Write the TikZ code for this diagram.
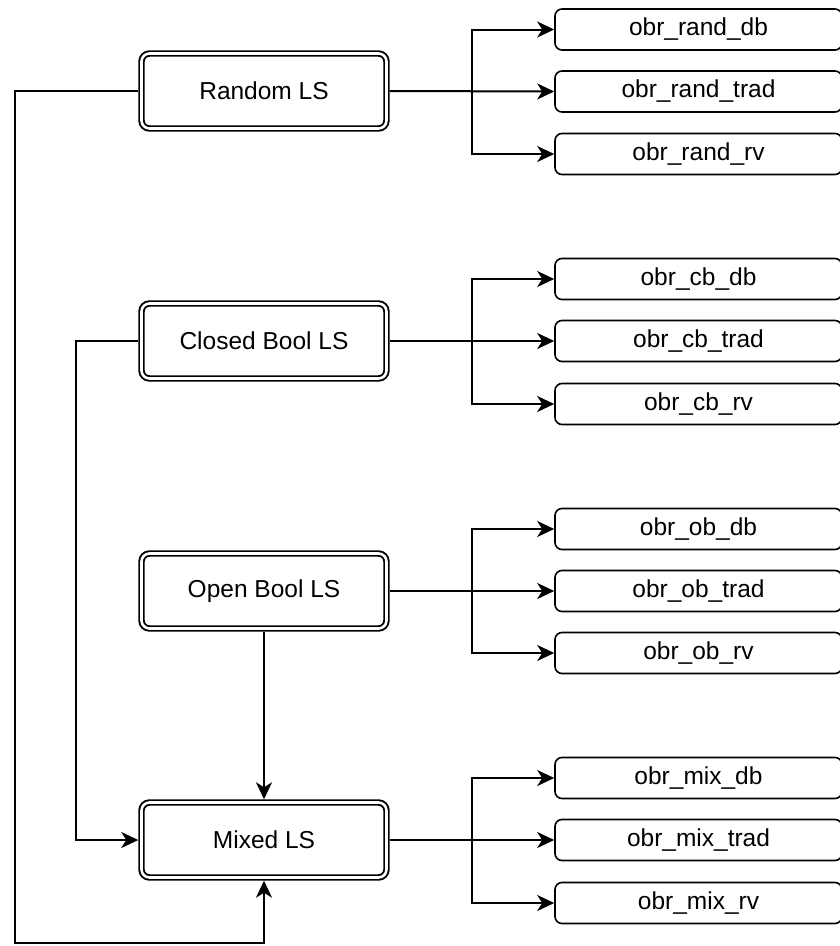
\documentclass[tikz,border=0pt]{standalone}
\usepackage{fontspec}
\setmainfont{Liberation Sans}
\usetikzlibrary{arrows.meta}
\begin{document}
\begin{tikzpicture}[x=1pt,y=-1pt,
  lsbox/.style={draw=black, line width=1.9pt, double=white, double distance=2.6pt,
    rounded corners=8pt, minimum width=245pt, minimum height=75pt, inner sep=0pt,
    outer sep=3.2pt, font=\fontsize{24.5}{28}\selectfont},
  obox/.style={draw=black, line width=1.6pt, rounded corners=7pt, minimum width=287pt,
    minimum height=41pt, inner sep=0pt, outer sep=0.8pt, font=\fontsize{24.5}{28}\selectfont},
  arr/.style={line width=2pt, -{Stealth[length=17pt,width=16pt,inset=5pt]}}]
\useasboundingbox (0,0) rectangle (840,946);
\clip (0,0) rectangle (840,946);
% left boxes
\node[lsbox] (rand) at (264,91) {Random LS};
\node[lsbox] (cb) at (264,341) {Closed Bool LS};
\node[lsbox] (ob) at (264,591) {Open Bool LS};
\node[lsbox] (mix) at (264,840) {Mixed LS};
% right boxes
\node[obox] (rdb) at (698.5,29.5) {obr\_rand\_db};
\node[obox] (rtrad) at (698.5,91.5) {obr\_rand\_trad};
\node[obox] (rrv) at (698.5,154) {obr\_rand\_rv};
\node[obox] (cdb) at (698.5,279) {obr\_cb\_db};
\node[obox] (ctrad) at (698.5,341) {obr\_cb\_trad};
\node[obox] (crv) at (698.5,404) {obr\_cb\_rv};
\node[obox] (odb) at (698.5,529) {obr\_ob\_db};
\node[obox] (otrad) at (698.5,591) {obr\_ob\_trad};
\node[obox] (orv) at (698.5,653) {obr\_ob\_rv};
\node[obox] (mdb) at (698.5,778) {obr\_mix\_db};
\node[obox] (mtrad) at (698.5,840) {obr\_mix\_trad};
\node[obox] (mrv) at (698.5,903) {obr\_mix\_rv};
% branch coordinates
\coordinate (rb) at (472,91);
\coordinate (cbb) at (472,341);
\coordinate (obb) at (472,591);
\coordinate (mb) at (472,840);
\foreach \s/\b in {rand/r, cb/c, ob/o, mix/m}{
  \draw[arr] (\s.east) -- (\b trad.west);
}
\draw[arr] (rb) |- (rdb.west);
\draw[arr] (rb) |- (rrv.west);
\draw[arr] (cbb) |- (cdb.west);
\draw[arr] (cbb) |- (crv.west);
\draw[arr] (obb) |- (odb.west);
\draw[arr] (obb) |- (orv.west);
\draw[arr] (mb) |- (mdb.west);
\draw[arr] (mb) |- (mrv.west);
% left loops
\coordinate (l1) at (15,943);
\coordinate (l2) at (76,341);
\draw[arr] (rand.west) -| (l1) -| (mix.south);
\draw[arr] (cb.west) -| (l2) |- (mix.west);
\draw[arr] (ob.south) -- (mix.north);
\end{tikzpicture}
\end{document}
